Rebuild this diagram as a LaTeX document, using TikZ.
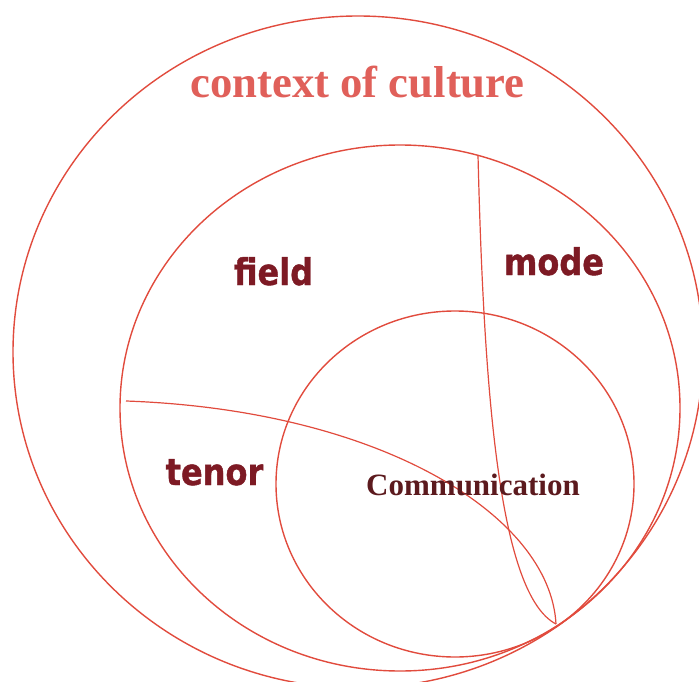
\documentclass[tikz,border=0pt]{standalone}
\usepackage{fontspec}
\newfontfamily\labserif{Liberation Serif}
\newfontfamily\labsans[BoldFeatures={FakeBold=1.2}]{DejaVu Sans}
\definecolor{linered}{HTML}{E14B3D}
\definecolor{culturecol}{HTML}{E0605A}
\definecolor{regcol}{HTML}{7D1A24}
\definecolor{commcol}{HTML}{5C1A1E}
\begin{document}
\begin{tikzpicture}[x=1pt,y=-1pt,
  ring/.style={draw=linered, line width=1.4pt},
  divider/.style={draw=linered, line width=1.2pt},
  reglabel/.style={anchor=base, inner sep=0pt, text=regcol, font=\labsans\bfseries\fontsize{36.8}{40}\selectfont, xscale=0.87},
]
\useasboundingbox (0,0) rectangle (699,682);
\clip (0,0) rectangle (699,682);
\draw[ring] (358,352) ellipse [x radius=345, y radius=336];
\draw[ring] (400,408) ellipse [x radius=280, y radius=263];
\draw[ring] (455,484) ellipse [x radius=179, y radius=173];
\coordinate (P) at (556,624);
\coordinate (tA) at (126,401);
\coordinate (tB) at (478,155);
\draw[divider] (tA) .. controls (380,410) and (550,515) .. (P);
\draw[divider] (tB) .. controls (484,400) and (500,595) .. (P);
\node[anchor=base, inner sep=0pt, text=culturecol, font=\labserif\bfseries\fontsize{44.7}{48}\selectfont] (culture) at (357.5,98) {context of culture};
\node[reglabel] (field) at (273.5,285) {field};
\node[reglabel] (mode) at (554,275) {mode};
\node[reglabel] (tenor) at (214.5,485) {tenor};
\node[anchor=base, inner sep=0pt, text=commcol, font=\labserif\bfseries\fontsize{31}{34}\selectfont] (comm) at (473,495) {Communication};
\end{tikzpicture}
\end{document}
